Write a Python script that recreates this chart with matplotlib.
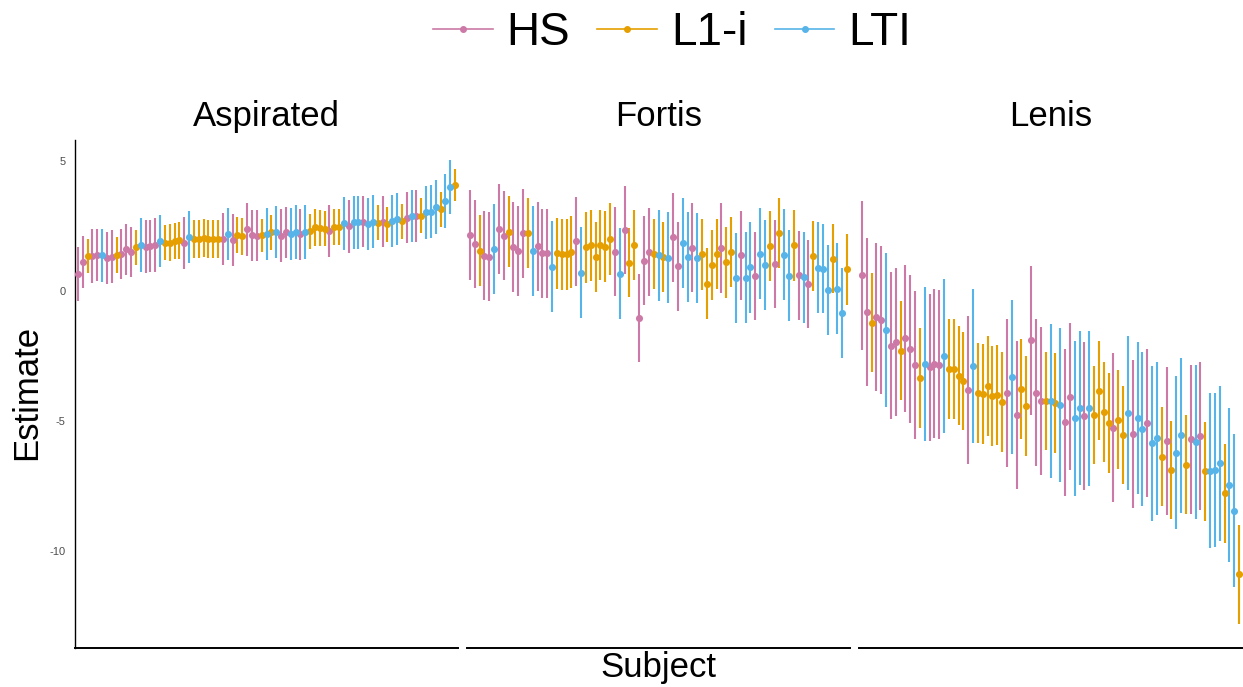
import numpy as np
import matplotlib
matplotlib.use("Agg")
import matplotlib.pyplot as plt
from matplotlib.lines import Line2D

plt.rcParams['font.family'] = ['Liberation Sans', 'DejaVu Sans']

# ------------------ Datos ------------------
panels = ["Aspirated", "Fortis", "Lenis"]
group_names = ["HS", "L1-i", "LTI"]
group_colors = {"HS": "#CC79A7", "L1-i": "#E69F00", "LTI": "#56B4E9"}

# grupo de cada sujeto (mismo orden de sujetos en los tres paneles)
subject_group = ["HS", "HS", "L1-i", "HS", "HS", "LTI", "HS", "HS", "L1-i", "HS",
                 "HS", "HS", "L1-i", "LTI", "HS", "HS", "HS", "LTI", "L1-i", "L1-i",
                 "L1-i", "L1-i", "HS", "LTI", "L1-i", "L1-i", "L1-i", "L1-i", "L1-i", "L1-i",
                 "HS", "LTI", "HS", "L1-i", "L1-i", "HS", "HS", "HS", "L1-i", "LTI",
                 "L1-i", "LTI", "HS", "HS", "LTI", "LTI", "HS", "LTI", "L1-i", "L1-i",
                 "L1-i", "L1-i", "HS", "L1-i", "L1-i", "LTI", "HS", "LTI", "LTI", "HS",
                 "LTI", "LTI", "L1-i", "HS", "L1-i", "LTI", "LTI", "L1-i", "HS", "LTI",
                 "HS", "L1-i", "LTI", "LTI", "LTI", "L1-i", "LTI", "LTI", "L1-i"]

# Aspirated
asp_est = [0.65, 1.13, 1.35, 1.35, 1.37, 1.37, 1.28, 1.32, 1.37, 1.42,
           1.60, 1.51, 1.68, 1.77, 1.71, 1.74, 1.77, 1.92, 1.86, 1.86,
           1.92, 1.95, 1.86, 2.06, 2.01, 2.00, 2.04, 2.01, 2.01, 2.00,
           2.01, 2.19, 1.96, 2.15, 2.10, 2.37, 2.14, 2.12, 2.15, 2.20,
           2.26, 2.28, 2.13, 2.26, 2.19, 2.27, 2.18, 2.28, 2.30, 2.45,
           2.42, 2.40, 2.31, 2.45, 2.47, 2.60, 2.49, 2.64, 2.64, 2.67,
           2.58, 2.67, 2.63, 2.67, 2.56, 2.69, 2.78, 2.69, 2.82, 2.88,
           2.88, 2.90, 3.03, 3.05, 3.24, 3.14, 3.46, 4.01, 4.09]
asp_err = [1.03, 1.00, 0.67, 1.03, 1.00, 1.01, 1.00, 1.01, 0.69, 0.96,
           0.98, 0.97, 0.67, 1.03, 1.01, 1.00, 1.03, 1.00, 0.67, 0.70,
           0.70, 0.70, 1.00, 1.00, 0.72, 0.72, 0.72, 0.72, 0.72, 0.72,
           1.00, 1.01, 1.00, 0.70, 0.70, 1.01, 0.99, 0.98, 0.64, 1.01,
           0.67, 1.00, 1.03, 0.99, 0.99, 1.03, 0.99, 1.03, 0.67, 0.70,
           0.70, 0.67, 0.99, 0.69, 0.69, 1.03, 1.03, 1.01, 1.01, 0.99,
           1.01, 1.03, 0.67, 0.99, 0.67, 1.01, 1.01, 0.67, 0.99, 0.99,
           1.01, 0.67, 1.01, 1.01, 1.03, 0.67, 1.03, 1.04, 0.62]

# Fortis
for_est = [2.15, 1.81, 1.55, 1.36, 1.32, 1.63, 2.37, 2.12, 2.29, 1.71,
           1.54, 2.22, 2.22, 1.55, 1.73, 1.45, 1.45, 0.94, 1.45, 1.42,
           1.41, 1.50, 1.91, 0.70, 1.68, 1.76, 1.32, 1.77, 1.71, 2.00,
           1.52, 0.67, 2.35, 1.09, 1.78, -1.03, 1.17, 1.50, 1.44, 1.37,
           1.30, 1.28, 2.06, 0.95, 1.83, 1.30, 1.67, 1.28, 1.41, 0.28,
           1.00, 1.42, 1.65, 1.10, 1.49, 0.51, 1.37, 0.52, 0.92, 0.58,
           1.44, 1.02, 1.73, 1.04, 2.24, 1.40, 0.58, 1.76, 0.60, 0.54,
           0.27, 1.35, 0.90, 0.86, 0.05, 1.24, 0.09, -0.83, 0.83]
for_err = [1.72, 1.70, 1.36, 1.70, 1.71, 1.73, 1.73, 1.71, 1.35, 1.73,
           1.72, 1.71, 1.35, 1.74, 1.71, 1.71, 1.71, 1.75, 1.37, 1.37,
           1.37, 1.37, 1.71, 1.75, 1.36, 1.36, 1.35, 1.36, 1.36, 1.37,
           1.72, 1.74, 1.69, 1.33, 1.35, 1.69, 1.70, 1.69, 1.35, 1.74,
           1.35, 1.75, 1.70, 1.71, 1.73, 1.73, 1.71, 1.73, 1.36, 1.36,
           1.36, 1.35, 1.72, 1.35, 1.35, 1.74, 1.70, 1.74, 1.75, 1.71,
           1.74, 1.73, 1.35, 1.70, 1.35, 1.74, 1.75, 1.36, 1.71, 1.75,
           1.71, 1.34, 1.76, 1.72, 1.74, 1.33, 1.74, 1.73, 1.35]

# Lenis
len_est = [0.60, -0.82, -1.22, -1.01, -1.12, -1.50, -2.10, -1.97, -2.30, -1.82,
           -2.23, -2.85, -3.33, -2.82, -2.93, -2.80, -2.83, -2.50, -3.01, -3.01,
           -3.25, -3.45, -3.81, -2.88, -3.91, -3.97, -3.65, -4.04, -4.00, -4.27,
           -3.92, -3.30, -4.78, -3.76, -4.41, -1.90, -3.91, -4.22, -4.22, -4.23,
           -4.32, -4.38, -5.05, -4.06, -4.90, -4.49, -4.82, -4.51, -4.77, -3.83,
           -4.64, -5.06, -5.26, -4.95, -5.54, -4.68, -5.51, -4.88, -5.31, -5.06,
           -5.86, -5.67, -6.37, -5.78, -6.88, -6.22, -5.54, -6.68, -5.71, -5.80,
           -5.58, -6.94, -6.91, -6.88, -6.63, -7.78, -7.46, -8.45, -10.90]
len_err = [2.85, 2.85, 1.91, 2.84, 2.85, 2.96, 2.83, 2.85, 1.90, 2.84,
           2.85, 2.85, 1.92, 2.96, 2.83, 2.87, 2.86, 2.97, 1.92, 1.92,
           1.92, 1.89, 2.85, 2.96, 1.92, 1.92, 1.91, 1.92, 1.92, 1.92,
           2.85, 2.97, 2.85, 1.92, 1.92, 2.85, 2.83, 2.85, 1.89, 2.97,
           1.92, 2.95, 2.83, 2.83, 2.98, 2.97, 2.85, 2.97, 1.90, 1.89,
           1.92, 1.92, 2.86, 1.91, 1.90, 2.97, 2.84, 2.93, 2.96, 2.85,
           2.98, 2.96, 1.90, 2.85, 1.89, 2.95, 2.98, 1.90, 2.85, 2.97,
           2.85, 1.90, 2.97, 2.96, 2.97, 1.91, 2.97, 2.95, 1.90]

panel_data = [(asp_est, asp_err), (for_est, for_err), (len_est, len_err)]

# ------------------ Figura ------------------
W, H = 1243, 687
fig = plt.figure(figsize=(W / 100, H / 100), dpi=100)

panel_px = [(75, 458), (467, 850), (859, 1242)]
top_px, bottom_px = 140, 648
grp = np.array(subject_group)

for k, (name, (est, err)) in enumerate(zip(panels, panel_data)):
    x0, x1 = panel_px[k]
    ax = fig.add_axes([x0 / W, 1 - bottom_px / H, (x1 - x0) / W, (bottom_px - top_px) / H])
    est = np.array(est)
    err = np.array(err)
    x = np.arange(1, len(est) + 1)
    for g in group_names:
        m = grp == g
        ax.vlines(x[m], est[m] - err[m], est[m] + err[m], color=group_colors[g],
                  lw=1.5, zorder=2)
        ax.scatter(x[m], est[m], s=26, color=group_colors[g], zorder=3, linewidths=0)

    ax.set_xlim(0.4, len(est) + 0.6)
    ax.set_ylim(-13.73, 5.81)
    ax.set_xticks([])
    for s in ["top", "right"]:
        ax.spines[s].set_visible(False)
    ax.spines["bottom"].set_linewidth(1.4)
    if k == 0:
        ax.spines["left"].set_linewidth(1.0)
        ax.set_yticks([5, 0, -5, -10])
        ax.set_yticklabels(["5", "0", "-5", "-10"])
        ax.tick_params(axis="y", length=0, pad=7, labelsize=8, labelcolor="#4D4D4D")
    else:
        ax.spines["left"].set_visible(False)
        ax.set_yticks([])
    ax.set_title(name, fontsize=25, pad=10)

fig.text(27 / W, 1 - 392 / H, "Estimate", rotation=90, fontsize=25,
         ha="center", va="center")
fig.text(658 / W, 1 - 668 / H, "Subject", fontsize=25, ha="center", va="center")

handles = [Line2D([0], [0], color=group_colors[g], lw=1.2, marker="o", markersize=4)
           for g in group_names]
fig.legend(handles, group_names, loc="center", bbox_to_anchor=(672 / W, 1 - 33 / H),
           ncol=3, frameon=False, fontsize=33, handlelength=1.3, handletextpad=0.3,
           columnspacing=0.6, borderaxespad=0)

fig.savefig("out.png", dpi=100)
